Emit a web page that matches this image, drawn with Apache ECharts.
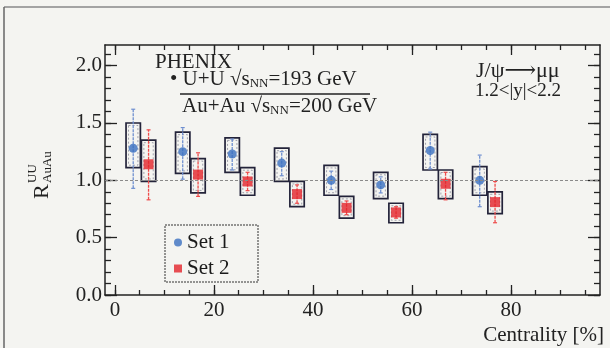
<!DOCTYPE html>
<html>
<head>
<meta charset="utf-8">
<script src="https://cdn.jsdelivr.net/npm/echarts@6/dist/echarts.min.js"></script>
<style>
  html, body { margin: 0; padding: 0; background: #f4f4f1; }
  #main { width: 610px; height: 348px; }
</style>
</head>
<body>
<div id="main"></div>
<script>
// centrality bin positions (%)
var set1X = [3.7, 13.7, 23.7, 33.7, 43.7, 53.7, 63.7, 73.7];
var set2X = [6.8, 16.8, 26.8, 36.8, 46.8, 56.8, 66.8, 76.8];

// Set 1 (blue circles)
var set1Y      = [1.28, 1.25, 1.23, 1.15, 1.00, 0.96, 1.26, 1.00];
var set1StatLo = [0.93, 1.01, 1.09, 1.04, 0.92, 0.89, 1.10, 0.77];
var set1StatHi = [1.62, 1.46, 1.36, 1.25, 1.08, 1.03, 1.42, 1.22];
var set1SysLo  = [1.11, 1.06, 1.07, 0.99, 0.87, 0.84, 1.09, 0.87];
var set1SysHi  = [1.50, 1.42, 1.37, 1.28, 1.13, 1.07, 1.40, 1.12];

// Set 2 (red squares)
var set2Y      = [1.14, 1.05, 0.99, 0.88, 0.76, 0.72, 0.97, 0.81];
var set2StatLo = [0.83, 0.86, 0.91, 0.80, 0.70, 0.67, 0.83, 0.63];
var set2StatHi = [1.44, 1.24, 1.07, 0.96, 0.82, 0.77, 1.07, 0.99];
var set2SysLo  = [0.99, 0.89, 0.87, 0.77, 0.67, 0.63, 0.84, 0.71];
var set2SysHi  = [1.35, 1.19, 1.11, 0.99, 0.86, 0.80, 1.09, 0.90];

// ticks
var xMajor = [0, 20, 40, 60, 80];
var xMinor = [0, 5, 10, 15, 20, 25, 30, 35, 40, 45, 50, 55, 60, 65, 70, 75, 80, 85, 90, 95];
var yMajor = [0, 0.5, 1.0, 1.5, 2.0];
var yMinor = [0, 0.1, 0.2, 0.3, 0.4, 0.5, 0.6, 0.7, 0.8, 0.9, 1.0, 1.1, 1.2, 1.3, 1.4,
              1.5, 1.6, 1.7, 1.8, 1.9, 2.0, 2.1];

var SERIF = '"Liberation Serif", "DejaVu Serif", serif';
var INK = '#222';
var BOX_HALF = 1.45; // half width of systematic boxes, in % units

function zip(a, b, c) {
  var out = [];
  for (var i = 0; i < a.length; i++) out.push(c ? [a[i], b[i], c[i]] : [a[i], b[i]]);
  return out;
}

function boxItem(params, api) {
  var x = api.value(0), lo = api.value(1), hi = api.value(2);
  var p1 = api.coord([x - BOX_HALF, hi]);
  var p2 = api.coord([x + BOX_HALF, lo]);
  var w = p2[0] - p1[0], h = p2[1] - p1[1];
  return {
    type: 'group',
    children: [
      { type: 'rect', shape: { x: p1[0], y: p1[1], width: w, height: h },
        style: { fill: 'none', stroke: '#23233a', lineWidth: 1.7 } },
      { type: 'rect', shape: { x: p1[0] + 2.5, y: p1[1] + 2.5, width: w - 5, height: h - 5 },
        style: { fill: 'none', stroke: '#6a6a80', lineWidth: 0.6, lineDash: [2, 2] } }
    ]
  };
}

function errItem(color) {
  return function (params, api) {
    var x = api.value(0);
    var a = api.coord([x, api.value(1)]);
    var b = api.coord([x, api.value(2)]);
    return {
      type: 'group',
      children: [
        { type: 'line', shape: { x1: a[0], y1: a[1], x2: b[0], y2: b[1] },
          style: { stroke: color, lineWidth: 1.3, lineDash: [3, 1] } },
        { type: 'line', shape: { x1: a[0] - 2, y1: a[1], x2: a[0] + 2, y2: a[1] },
          style: { stroke: color, lineWidth: 1.2 } },
        { type: 'line', shape: { x1: b[0] - 2, y1: b[1], x2: b[0] + 2, y2: b[1] },
          style: { stroke: color, lineWidth: 1.2 } }
      ]
    };
  };
}

function xAxisDef(pos, ticks, len, withLine, withLabels) {
  return {
    type: 'value', position: pos, min: -2, max: 98,
    axisLine: { show: withLine, onZero: false, lineStyle: { color: INK, width: 1.5 } },
    axisTick: { show: true, inside: true, length: len, customValues: ticks,
                lineStyle: { color: INK, width: 1.3 } },
    axisLabel: withLabels ? { show: true, customValues: ticks, color: INK,
                fontFamily: SERIF, fontSize: 21, margin: 5 } : { show: false },
    splitLine: { show: false }
  };
}

function yAxisDef(pos, ticks, len, withLine, withLabels) {
  return {
    type: 'value', position: pos, min: 0, max: 2.18,
    axisLine: { show: withLine, onZero: false, lineStyle: { color: INK, width: 1.5 } },
    axisTick: { show: true, inside: true, length: len, customValues: ticks,
                lineStyle: { color: INK, width: 1.3 } },
    axisLabel: withLabels ? { show: true, customValues: ticks, color: INK,
                fontFamily: SERIF, fontSize: 21, margin: 3,
                formatter: function (v) { return v.toFixed(1); } } : { show: false },
    splitLine: { show: false }
  };
}

var chart = echarts.init(document.getElementById('main'));

var option = {
  backgroundColor: '#f4f4f1',
  animation: false,
  grid: { left: 105, right: 10, top: 45, bottom: 53 },
  xAxis: [
    xAxisDef('bottom', xMajor, 10, true, true),
    xAxisDef('bottom', xMinor, 5, false, false),
    xAxisDef('top', xMajor, 10, true, false),
    xAxisDef('top', xMinor, 5, false, false)
  ],
  yAxis: [
    yAxisDef('left', yMajor, 12, true, true),
    yAxisDef('left', yMinor, 6, false, false),
    yAxisDef('right', yMajor, 12, true, false),
    yAxisDef('right', yMinor, 6, false, false)
  ],
  legend: {
    orient: 'vertical', left: 169, top: 227, itemGap: 5,
    itemWidth: 8, itemHeight: 8,
    textStyle: { fontFamily: SERIF, fontSize: 21, color: '#1a1a1a' },
    data: [
      { name: 'Set 1', icon: 'circle' },
      { name: 'Set 2', icon: 'rect' }
    ]
  },
  series: [
    { type: 'custom', name: 'sys1', renderItem: boxItem, data: zip(set1X, set1SysLo, set1SysHi), z: 2 },
    { type: 'custom', name: 'sys2', renderItem: boxItem, data: zip(set2X, set2SysLo, set2SysHi), z: 2 },
    { type: 'custom', name: 'stat1', renderItem: errItem('#6f8fd0'), data: zip(set1X, set1StatLo, set1StatHi), z: 3 },
    { type: 'custom', name: 'stat2', renderItem: errItem('#ee4a4a'), data: zip(set2X, set2StatLo, set2StatHi), z: 3 },
    {
      type: 'scatter', name: 'Set 1', symbol: 'circle', symbolSize: 9,
      itemStyle: { color: '#3a6fc0' }, data: zip(set1X, set1Y), z: 4,
      markLine: {
        silent: true, symbol: 'none', label: { show: false },
        lineStyle: { color: '#8a8a8a', type: [3, 2], width: 1 },
        data: [{ yAxis: 1.0 }]
      }
    },
    {
      type: 'scatter', name: 'Set 2', symbol: 'rect', symbolSize: 10,
      itemStyle: { color: '#e4232b' }, data: zip(set2X, set2Y), z: 4
    }
  ],
  graphic: [
    // scan frame
    { type: 'line', shape: { x1: 4, y1: 7, x2: 610, y2: 7 }, style: { stroke: '#888', lineWidth: 1.5 } },
    { type: 'line', shape: { x1: 4, y1: 7, x2: 4, y2: 348 }, style: { stroke: '#666', lineWidth: 1.5 } },
    // legend box
    { type: 'rect', shape: { x: 165, y: 225, width: 93, height: 57 },
      style: { fill: 'none', stroke: '#333', lineWidth: 1, lineDash: [2, 1] } },
    // labels
    { type: 'text', x: 155, y: 52, style: { text: 'PHENIX', fontFamily: SERIF, fontSize: 21, fill: INK } },
    { type: 'text', x: 170, y: 69, style: {
        text: '{d|•} U+U √s{nn|NN}=193 GeV',
        fontFamily: SERIF, fontSize: 21, fill: INK,
        rich: { d: { fontSize: 21, fontFamily: SERIF, fill: INK },
                nn: { fontSize: 13, fontFamily: SERIF, fill: INK, verticalAlign: 'bottom', lineHeight: 14 } } } },
    { type: 'line', shape: { x1: 180, y1: 94, x2: 370, y2: 94 }, style: { stroke: INK, lineWidth: 1.4 } },
    { type: 'text', x: 182, y: 96, style: {
        text: 'Au+Au √s{nn|NN}=200 GeV',
        fontFamily: SERIF, fontSize: 21, fill: INK,
        rich: { nn: { fontSize: 13, fontFamily: SERIF, fill: INK, verticalAlign: 'bottom', lineHeight: 14 } } } },
    { type: 'text', x: 476, y: 60, style: { text: 'J/ψ⟶μμ', fontFamily: SERIF, fontSize: 22, fill: INK } },
    { type: 'text', x: 475, y: 82, style: { text: '1.2<|y|<2.2', fontFamily: SERIF, fontSize: 19, fill: INK } },
    { type: 'text', x: 604, y: 325, style: { text: 'Centrality [%]', fontFamily: SERIF, fontSize: 21, fill: INK, align: 'right' } },
    // y title R^UU_AuAu, rotated
    { type: 'group', x: 42, y: 199, rotation: Math.PI / 2, children: [
      { type: 'text', x: 0, y: 0, style: { text: 'R', fontFamily: SERIF, fontSize: 22, fill: INK, verticalAlign: 'middle' } },
      { type: 'text', x: 16, y: -9, style: { text: 'UU', fontFamily: SERIF, fontSize: 13, fill: INK, verticalAlign: 'middle' } },
      { type: 'text', x: 16, y: 6, style: { text: 'AuAu', fontFamily: SERIF, fontSize: 13, fill: INK, verticalAlign: 'middle' } }
    ] }
  ]
};

chart.setOption(option);
</script>
</body>
</html>
